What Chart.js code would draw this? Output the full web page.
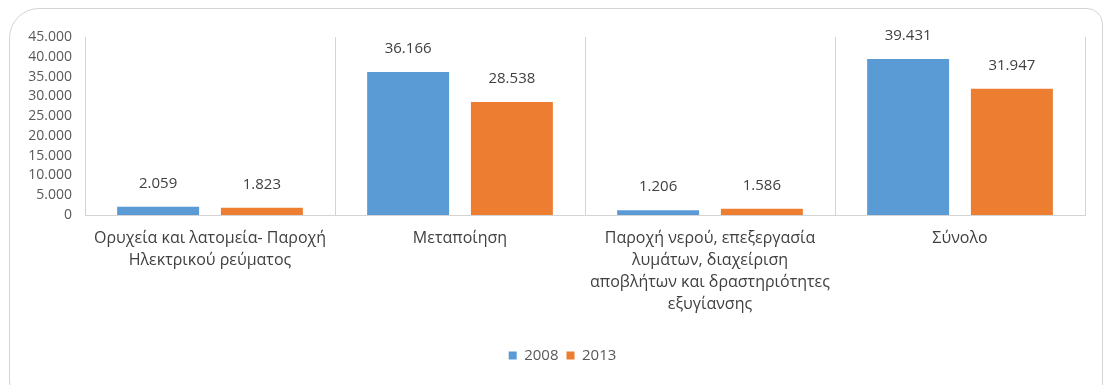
<!DOCTYPE html>
<html>
<head>
<meta charset="utf-8">
<script src="https://cdn.jsdelivr.net/npm/chart.js@4/dist/chart.umd.min.js"></script>
<style>
    body { margin: 0; background: #fff; overflow: hidden; }
    #wrap { position: relative; width: 1105px; height: 385px; overflow: hidden; }
    #frame {
        position: absolute; left: 9px; top: 8px; width: 1092px; height: 400px;
        border: 1px solid #d4d4d4; border-radius: 30px 16px 16px 30px;
    }
    #chart { position: absolute; left: 0; top: 0; }
</style>
</head>
<body>
<div id="wrap">
    <div id="frame"></div>
    <canvas id="chart" width="1105" height="385"></canvas>
</div>
<script>
const categories = [
    ['Ορυχεία και λατομεία- Παροχή', 'Ηλεκτρικού ρεύματος'],
    'Μεταποίηση',
    ['Παροχή νερού, επεξεργασία', 'λυμάτων, διαχείριση', 'αποβλήτων και δραστηριότητες', 'εξυγίανσης'],
    'Σύνολο'
];
const values2008 = [2059, 36166, 1206, 39431];
const values2013 = [1823, 28538, 1586, 31947];
const seriesNames = ['2008', '2013'];
const yTicks = [0, 5000, 10000, 15000, 20000, 25000, 30000, 35000, 40000, 45000];

const FONT = '"Open Sans", "Noto Sans", sans-serif';

function formatNumber(n) {
    return String(n).replace(/\B(?=(\d{3})+(?!\d))/g, '.');
}

const valueLabels = {
    id: 'valueLabels',
    afterLayout(chart) {
        // legend sits a bit right of the canvas centre in the original
        chart.legend.left += 15;
        chart.legend.right += 15;
    },
    afterDatasetsDraw(chart) {
        const ctx = chart.ctx;
        ctx.save();
        ctx.font = '15px ' + FONT;
        ctx.fillStyle = '#404040';
        ctx.textAlign = 'center';
        ctx.textBaseline = 'middle';
        chart.data.datasets.forEach((ds, i) => {
            chart.getDatasetMeta(i).data.forEach((bar, j) => {
                ctx.fillText(formatNumber(ds.data[j]), bar.x, bar.y - 23);
            });
        });
        ctx.restore();
    }
};

new Chart(document.getElementById('chart'), {
    type: 'bar',
    data: {
        labels: categories,
        datasets: [{
            label: seriesNames[0],
            data: values2008,
            backgroundColor: '#5B9BD5',
            borderWidth: 0,
            categoryPercentage: 0.83,
            barPercentage: 0.79
        }, {
            label: seriesNames[1],
            data: values2013,
            backgroundColor: '#ED7D31',
            borderWidth: 0,
            categoryPercentage: 0.83,
            barPercentage: 0.79
        }]
    },
    options: {
        responsive: false,
        animation: false,
        layout: { padding: { left: 10, right: 20, top: 37, bottom: 12 } },
        plugins: {
            tooltip: { enabled: false },
            legend: {
                position: 'bottom',
                labels: {
                    boxWidth: 8,
                    boxHeight: 8,
                    padding: 8,
                    color: '#595959',
                    font: { family: FONT, size: 15 }
                }
            }
        },
        scales: {
            x: {
                grid: { display: true, offset: true, drawTicks: false, color: '#d4d4d4' },
                border: { color: '#d4d4d4' },
                ticks: {
                    maxRotation: 0,
                    autoSkip: false,
                    padding: 12,
                    color: '#404040',
                    font: { family: FONT, size: 16, lineHeight: 1.375 }
                },
                afterFit(axis) { axis.height = 125; }
            },
            y: {
                min: 0,
                max: 45000,
                afterBuildTicks(axis) { axis.ticks = yTicks.map(v => ({ value: v })); },
                grid: { display: false },
                border: { color: '#d4d4d4' },
                ticks: {
                    autoSkip: false,
                    color: '#595959',
                    padding: 5,
                    font: { family: FONT, size: 14 },
                    callback: v => formatNumber(v)
                },
                afterFit(axis) { axis.width = 75; }
            },
            // right edge line of the plot area
            yRight: {
                position: 'right',
                min: 0,
                max: 45000,
                grid: { display: false, drawTicks: false },
                border: { color: '#d4d4d4' },
                ticks: { display: false },
                afterFit(axis) { axis.width = 0; }
            }
        }
    },
    plugins: [valueLabels]
});
</script>
</body>
</html>
